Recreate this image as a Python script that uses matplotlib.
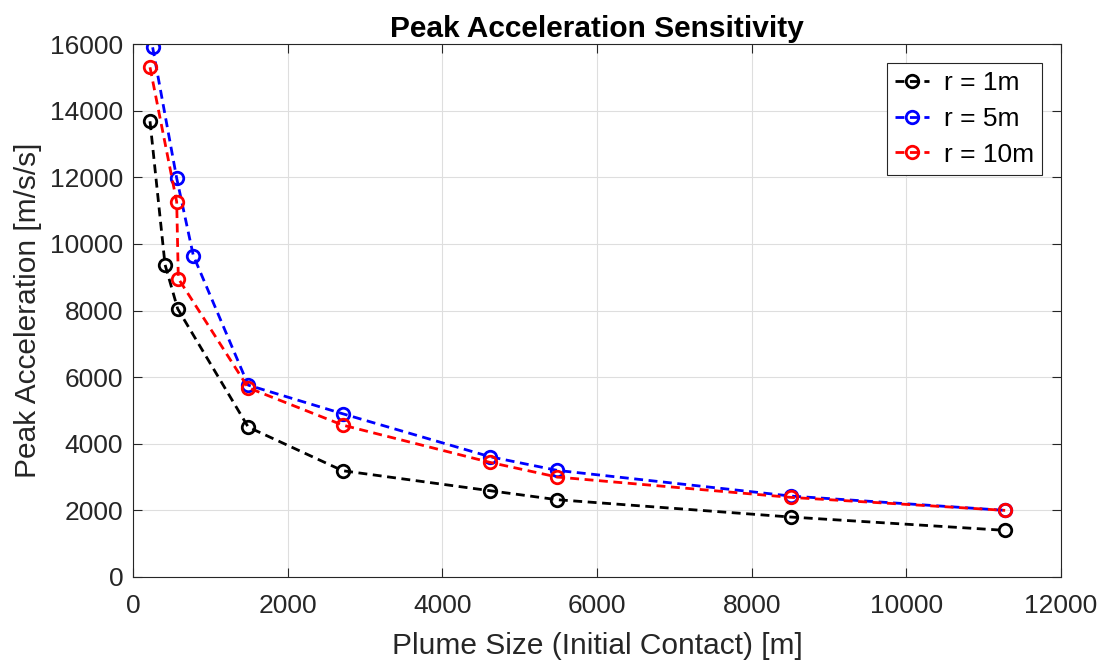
import matplotlib
matplotlib.use("Agg")
import matplotlib.pyplot as plt

plt.rcParams['font.family'] = ['Liberation Sans', 'DejaVu Sans']

# Data
x_r1 = [220, 414, 578, 1490, 2712, 4617, 5487, 8507, 11278]
y_r1 = [13680, 9380, 8050, 4500, 3190, 2590, 2320, 1800, 1400]

x_r5 = [254, 565, 780, 1490, 2712, 4617, 5487, 8507, 11278]
y_r5 = [15900, 11970, 9650, 5760, 4900, 3610, 3200, 2430, 2000]

x_r10 = [220, 565, 586, 1490, 2712, 4617, 5487, 8507, 11278]
y_r10 = [15300, 11260, 8960, 5680, 4560, 3440, 3000, 2390, 2000]

labels = ['r = 1m', 'r = 5m', 'r = 10m']
colors = ['black', 'blue', 'red']

x_ticks = [0, 2000, 4000, 6000, 8000, 10000, 12000]
y_ticks = [0, 2000, 4000, 6000, 8000, 10000, 12000, 14000, 16000]

fig = plt.figure(figsize=(11.09, 6.64), dpi=100)
ax = fig.add_axes([133/1109, 1-577/664, (1061-133)/1109, (577-44)/664])

for xs, ys, c, lab in zip([x_r1, x_r5, x_r10], [y_r1, y_r5, y_r10], colors, labels):
    ax.plot(xs, ys, linestyle='--', dashes=(3.2, 2.0), color=c, lw=2,
            marker='o', markersize=9, markerfacecolor='none',
            markeredgewidth=2, markeredgecolor=c, label=lab)

ax.set_xlim(0, 12000)
ax.set_ylim(0, 16000)
ax.set_xticks(x_ticks)
ax.set_yticks(y_ticks)
ax.grid(True, color='#dedede', linewidth=0.8)
ax.set_axisbelow(True)
ax.tick_params(direction='in', length=6.5, width=0.8, top=True, right=True,
               labelsize=19, colors='#262626')
ax.tick_params(axis='y', pad=7)
ax.tick_params(axis='x', pad=12)
for s in ax.spines.values():
    s.set_color('#262626')
    s.set_linewidth(0.8)

ax.set_xlabel('Plume Size (Initial Contact) [m]', fontsize=21.5, color='#262626', labelpad=10)
ax.set_ylabel('Peak Acceleration [m/s/s]', fontsize=21.5, color='#262626', labelpad=6)
ax.set_title('Peak Acceleration Sensitivity', fontsize=21.5, fontweight='bold', pad=5)

leg = ax.legend(loc='upper right', fontsize=19, handlelength=1.3, handletextpad=0.55,
                fancybox=False, edgecolor='#262626', framealpha=1,
                borderaxespad=0.72, labelspacing=0.45, borderpad=0.3)
leg.get_frame().set_linewidth(0.8)

fig.savefig('out.png', dpi=100)
